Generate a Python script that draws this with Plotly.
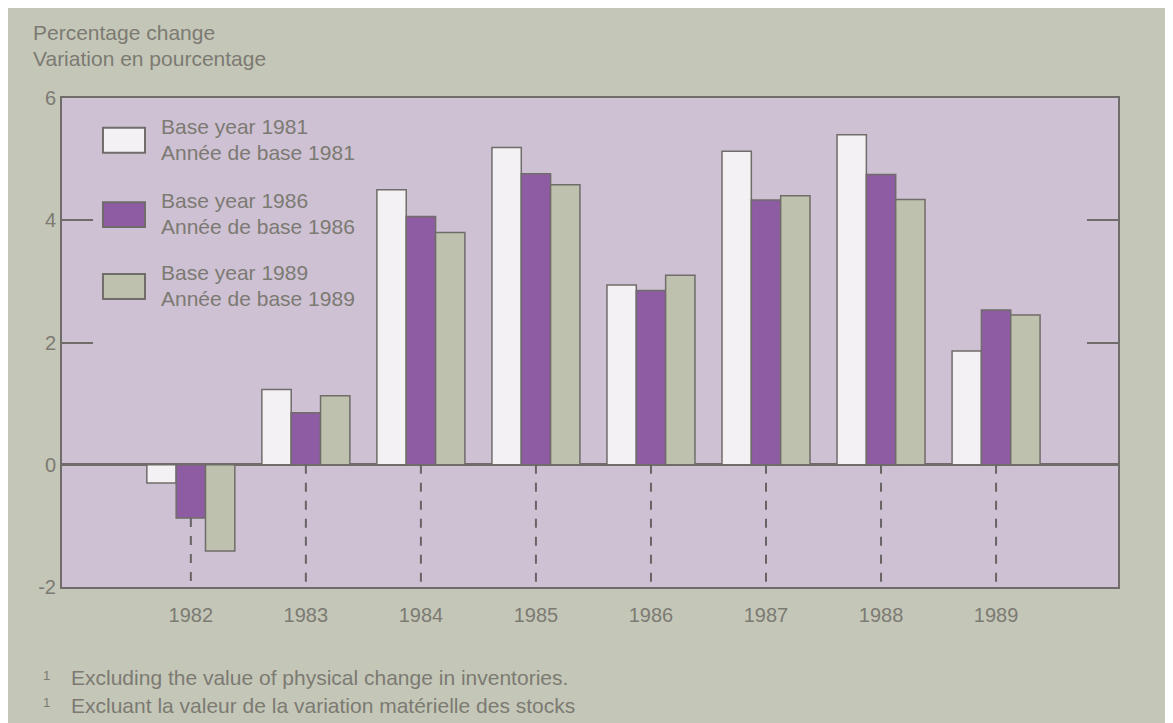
import plotly.graph_objects as go

years = [1982, 1983, 1984, 1985, 1986, 1987, 1988, 1989]
base_1981 = [-0.30, 1.23, 4.50, 5.19, 2.94, 5.13, 5.40, 1.86]
base_1986 = [-0.87, 0.85, 4.06, 4.76, 2.85, 4.33, 4.75, 2.53]
base_1989 = [-1.41, 1.13, 3.80, 4.58, 3.10, 4.40, 4.34, 2.45]

series_names = [
    ("Base year 1981", "Année de base 1981"),
    ("Base year 1986", "Année de base 1986"),
    ("Base year 1989", "Année de base 1989"),
]
y_title = ["Percentage change", "Variation en pourcentage"]
footnotes = [
    "Excluding the value of physical change in inventories.",
    "Excluant la valeur de la variation matérielle des stocks",
]

FONT = "Liberation Sans, Arial, sans-serif"
TXT = "rgb(124,122,114)"
EDGE = "rgb(112,108,106)"
colors = ["rgb(243,241,243)", "rgb(142,92,162)", "rgb(190,193,173)"]

fig = go.Figure()
for vals, col, nm in zip([base_1981, base_1986, base_1989], colors, series_names):
    fig.add_trace(go.Bar(
        x=years, y=vals, name=nm[0],
        marker=dict(color=col, line=dict(color=EDGE, width=1.5)),
        showlegend=False,
    ))

# dashed drop lines under each year, from zero (or the middle bar's bottom) to the axis
dx, dy = [], []
for yr, v in zip(years, base_1986):
    dx += [yr, yr, None]
    dy += [min(0, v), -2, None]
fig.add_trace(go.Scatter(
    x=dx, y=dy, mode="lines", showlegend=False, hoverinfo="skip",
    line=dict(color="rgb(105,100,100)", width=2, dash="dash"),
))

def txt(x, y, s, size=21, anchor="left"):
    fig.add_annotation(xref="paper", yref="paper", x=x, y=y, text=s,
                       xanchor=anchor, yanchor="middle", showarrow=False,
                       font=dict(family=FONT, size=size, color=TXT))

# hand-made legend: big swatches, two-line labels
tops = [0.939, 0.787, 0.640]
for top, col, nm in zip(tops, colors, series_names):
    fig.add_shape(type="rect", xref="paper", yref="paper",
                  x0=0.0388, x1=0.0786, y0=top - 0.051, y1=top,
                  fillcolor=col, line=dict(color=EDGE, width=2))
    txt(0.0919, top + 0.003, nm[0])
    txt(0.0919, top - 0.050, nm[1])

txt(-0.0294, 1.133, y_title[0])
txt(-0.0294, 1.080, y_title[1])

for yy, note in zip([-0.186, -0.243], footnotes):
    txt(-0.0199, yy + 0.006, "1", size=13)
    txt(0.0066, yy, note)

fig.update_layout(
    width=1157, height=715,
    margin=dict(l=54, r=47, t=90, b=136),
    paper_bgcolor="rgb(196,199,184)",
    plot_bgcolor="rgb(206,193,212)",
    barmode="group", bargap=0.235, bargroupgap=0,
    font=dict(family=FONT, size=20, color=TXT),
)
fig.update_xaxes(
    range=[1980.88, 1990.06], tickvals=years, ticktext=[str(y) for y in years],
    showgrid=False, zeroline=False,
    showline=True, linecolor=EDGE, linewidth=2, mirror=True,
    ticks="outside", ticklen=9, tickcolor="rgba(0,0,0,0)",
    tickfont=dict(family=FONT, size=20, color=TXT),
)
fig.update_yaxes(
    range=[-2, 6], tickvals=[-2, 0, 2, 4, 6], ticktext=["-2", "0", "2", "4", "6"],
    showgrid=False, zeroline=True, zerolinecolor=EDGE, zerolinewidth=3,
    showline=True, linecolor=EDGE, linewidth=2, mirror="ticks",
    ticks="inside", ticklen=31, tickwidth=2, tickcolor=EDGE,
    tickfont=dict(family=FONT, size=20, color=TXT),
)

fig.write_html("out.html")
